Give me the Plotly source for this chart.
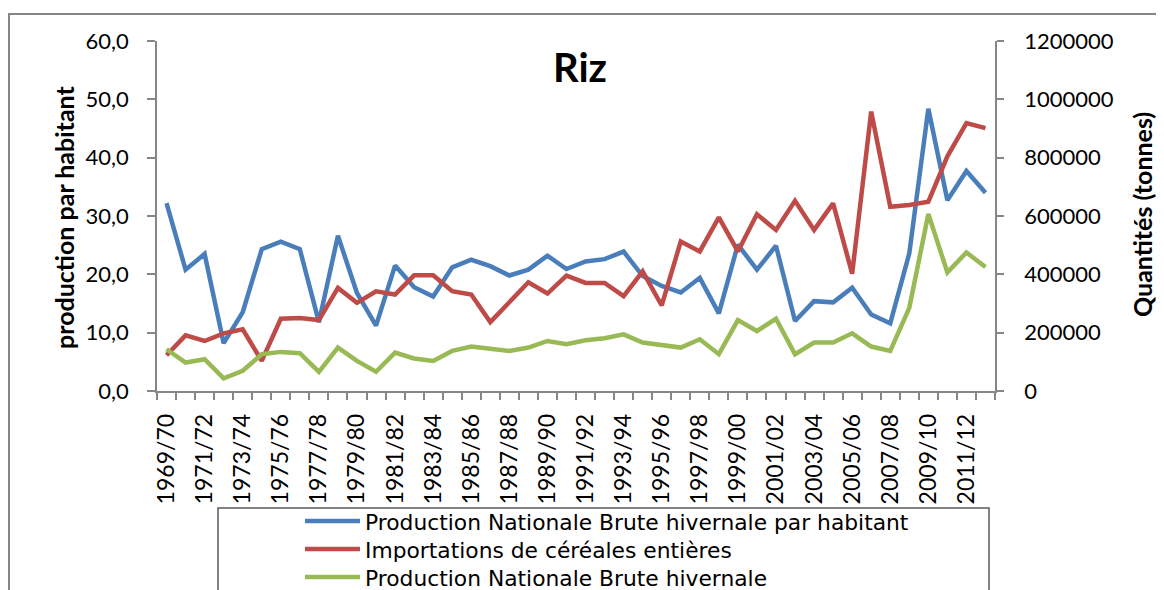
import plotly.graph_objects as go

seasons = ["1969/70","1970/71","1971/72","1972/73","1973/74","1974/75","1975/76","1976/77",
           "1977/78","1978/79","1979/80","1980/81","1981/82","1982/83","1983/84","1984/85",
           "1985/86","1986/87","1987/88","1988/89","1989/90","1990/91","1991/92","1992/93",
           "1993/94","1994/95","1995/96","1996/97","1997/98","1998/99","1999/00","2000/01",
           "2001/02","2002/03","2003/04","2004/05","2005/06","2006/07","2007/08","2008/09",
           "2009/10","2010/11","2011/12","2012/13"]

prod_par_hab = [32.2,20.8,23.5,8.2,13.5,24.3,25.6,24.3,11.8,26.6,
                16.8,11.2,21.5,17.8,16.2,21.2,22.5,21.4,19.8,20.8,
                23.2,20.9,22.2,22.6,23.9,19.7,18.0,16.9,19.4,13.3,
                25.1,20.8,24.9,12.0,15.4,15.2,17.7,13.1,11.6,23.6,
                48.4,32.7,37.7,34.0]

importations = [122700,190900,171500,197700,211400,103300,247700,250000,243200,353600,
                302300,342000,330700,396600,396600,342000,330700,236300,304500,372700,
                334100,395500,370500,370500,325000,410200,293200,512500,478400,595500,
                478400,605700,552300,652200,552300,643200,402300,958000,631800,637500,
                648900,804500,918200,901100]

prod_brute = [143200,97700,109100,43200,69300,126100,134100,129500,65900,148900,
              103300,65900,131800,111400,103300,137500,152400,146600,137500,148900,
              171500,160200,173900,180700,194300,166000,157800,148900,177300,126100,
              243200,205700,247700,126100,166000,166000,197700,152400,137500,285300,
              606800,406700,474900,425100]

names = ["Production Nationale Brute hivernale par habitant",
         "Importations de céréales entières",
         "Production Nationale Brute hivernale"]
colors = ["#4A7EBB", "#BE4B48", "#98B954"]

idx = list(range(len(seasons)))
FONT = "Lato"
LEG_FONT = "DejaVu Sans"
AX = "#868686"

fig = go.Figure()
fig.add_trace(go.Scatter(x=idx, y=prod_par_hab, name=names[0], mode="lines",
                         line=dict(color=colors[0], width=4.5), yaxis="y",
                         legend="legend"))
fig.add_trace(go.Scatter(x=idx, y=importations, name=names[1], mode="lines",
                         line=dict(color=colors[1], width=4.5), yaxis="y2",
                         legend="legend2"))
fig.add_trace(go.Scatter(x=idx, y=prod_brute, name=names[2], mode="lines",
                         line=dict(color=colors[2], width=4.5), yaxis="y2",
                         legend="legend3"))

W, H = 1164, 590
OFF = 8                     # page offset of the figure in the screenshot
Ls, Rs, Ts, Bs = 157, 995, 41, 391   # plot area in screenshot pixels
L, R, T, B = Ls - OFF, Rs - OFF, Ts - OFF, Bs - OFF
pw, ph = R - L, B - T

def px(x):
    return (x - Ls) / pw

def py(y):
    return (Bs - y) / ph

LEG_SIZE = 21.8
item_h = LEG_SIZE * 1.3 + 3
row_centers = [521, 549, 577]

def leg(center):
    return dict(x=px(300), y=py(center - 5 - item_h / 2), xanchor="left", yanchor="top",
                bgcolor="rgba(0,0,0,0)", borderwidth=0,
                font=dict(family=LEG_FONT, size=LEG_SIZE, color="black"),
                itemwidth=55)

fig.update_layout(
    width=W, height=H,
    margin=dict(l=L, r=W - R, t=T, b=H - B, pad=0, autoexpand=False),
    paper_bgcolor="white", plot_bgcolor="white",
    separators=", ",
    font=dict(family=FONT, size=22, color="black"),
    showlegend=True,
    legend=leg(row_centers[0]),
    legend2=leg(row_centers[1]),
    legend3=leg(row_centers[2]),
    xaxis=dict(range=[-0.5, len(seasons) - 0.5], tickmode="array",
               tickvals=idx[::2], ticktext=seasons[::2], tickangle=-90,
               ticks="", showgrid=False, zeroline=False,
               showline=True, linecolor=AX, linewidth=1.5,
               ticklabelstandoff=12, automargin=False,
               tickfont=dict(family=FONT, size=23, color="black"),
               minor=dict(ticks="outside", tickmode="linear", tick0=-0.5, dtick=1,
                          ticklen=7, tickcolor=AX, tickwidth=1.5, showgrid=False)),
    yaxis=dict(range=[0, 60], dtick=10, tickformat=".1f", showgrid=False,
               zeroline=False, showline=True, linecolor=AX, linewidth=1.5,
               ticks="outside", ticklen=8, tickcolor=AX, tickwidth=1.5,
               ticklabelstandoff=14, automargin=False,
               tickfont=dict(family=FONT, size=22, color="black")),
    yaxis2=dict(range=[0, 1200000], dtick=200000, tickformat="d", overlaying="y",
                side="right", showgrid=False, zeroline=False, showline=True,
                linecolor=AX, linewidth=1.5, ticks="outside", ticklen=7,
                tickcolor=AX, tickwidth=1.5, ticklabelstandoff=16, automargin=False,
                tickfont=dict(family=FONT, size=22, color="black")),
    title=dict(text="<b>Riz</b>", x=px(580), xref="paper", xanchor="center",
               y=1 - (68 - OFF) / H, yref="container", yanchor="middle",
               font=dict(family=FONT, size=40, color="black")),
    shapes=[
        dict(type="rect", xref="paper", yref="paper",
             x0=px(9), x1=px(1190), y0=py(620), y1=py(14),
             line=dict(color=AX, width=2), fillcolor="rgba(0,0,0,0)", layer="below"),
        dict(type="rect", xref="paper", yref="paper",
             x0=px(218), x1=px(989), y0=py(620), y1=py(508),
             line=dict(color="#595959", width=1.5), fillcolor="rgba(0,0,0,0)", layer="below"),
    ],
    annotations=[
        dict(text="<b>production par habitant</b>", xref="paper", yref="paper",
             x=px(64), y=py(218), textangle=-90, showarrow=False,
             xanchor="center", yanchor="middle",
             font=dict(family=FONT, size=25, color="black")),
        dict(text="<b>Quantités (tonnes)</b>", xref="paper", yref="paper",
             x=px(1142), y=py(215), textangle=-90, showarrow=False,
             xanchor="center", yanchor="middle",
             font=dict(family=FONT, size=25, color="black")),
    ],
)

fig.write_html("out.html")
